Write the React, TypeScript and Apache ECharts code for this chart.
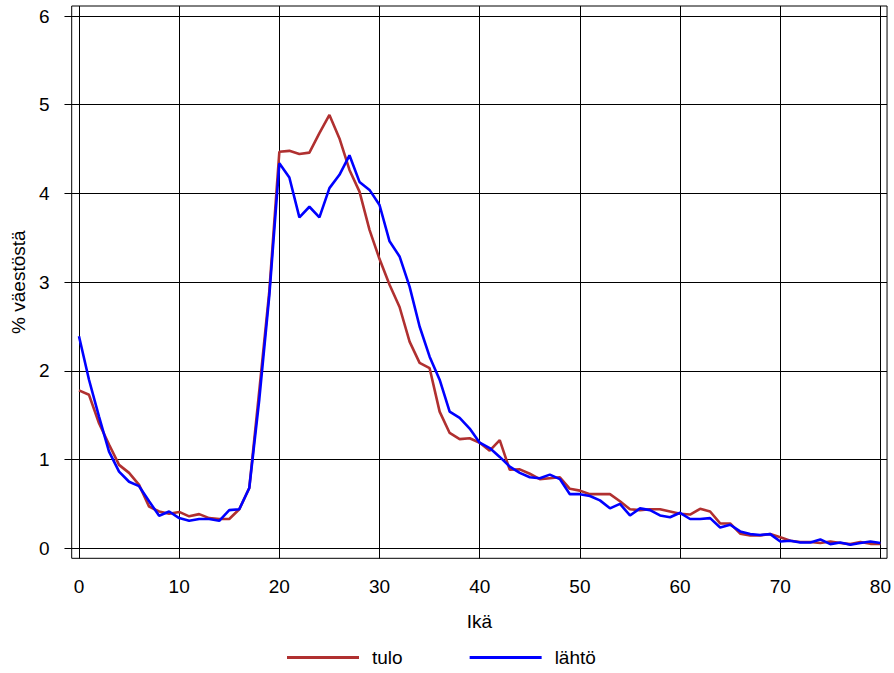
import React, { useEffect, useRef } from "react";
import * as echarts from "echarts";

const ages: number[] = Array.from({ length: 81 }, (_, i) => i);

const tulo: number[] = [
  1.78, 1.73, 1.41, 1.17, 0.94, 0.85, 0.715, 0.47, 0.415, 0.39,
  0.41, 0.36, 0.385, 0.34, 0.33, 0.33, 0.44, 0.68, 1.78, 2.9,
  4.47, 4.48, 4.445, 4.46, 4.68, 4.885, 4.62, 4.265, 4.02, 3.59,
  3.26, 2.97, 2.72, 2.33, 2.09, 2.03, 1.54, 1.30, 1.23, 1.24,
  1.19, 1.10, 1.22, 0.885, 0.89, 0.84, 0.78, 0.79, 0.80, 0.67,
  0.65, 0.61, 0.61, 0.61, 0.53, 0.44, 0.43, 0.44, 0.44, 0.415,
  0.39, 0.38, 0.445, 0.415, 0.28, 0.28, 0.165, 0.145, 0.145, 0.16,
  0.125, 0.085, 0.07, 0.07, 0.06, 0.077, 0.06, 0.047, 0.07, 0.05,
  0.05,
];

const lahto: number[] = [
  2.39, 1.90, 1.485, 1.09, 0.865, 0.75, 0.70, 0.53, 0.366, 0.415,
  0.34, 0.31, 0.33, 0.33, 0.31, 0.43, 0.44, 0.68, 1.68, 2.85,
  4.34, 4.18, 3.73, 3.85, 3.73, 4.06, 4.21, 4.43, 4.13, 4.04,
  3.87, 3.46, 3.29, 2.95, 2.50, 2.16, 1.90, 1.54, 1.47, 1.35,
  1.19, 1.13, 1.03, 0.92, 0.85, 0.80, 0.79, 0.83, 0.78, 0.61,
  0.61, 0.59, 0.54, 0.45, 0.50, 0.37, 0.45, 0.43, 0.37, 0.35,
  0.40, 0.33, 0.33, 0.34, 0.235, 0.265, 0.19, 0.16, 0.15, 0.16,
  0.077, 0.085, 0.065, 0.065, 0.10, 0.047, 0.065, 0.04, 0.06, 0.077,
  0.06,
];

const xTicks: number[] = [0, 10, 20, 30, 40, 50, 60, 70, 80];
const yTicks: number[] = [0, 1, 2, 3, 4, 5, 6];

const seriesNames = ["tulo", "lähtö"];
const FONT = "'Liberation Sans', Arial, sans-serif";

export default function App() {
  const ref = useRef<HTMLDivElement>(null);
  useEffect(() => {
    if (!ref.current) return;
    const chart = echarts.init(ref.current, undefined, { renderer: "svg" });
    const text = { fontFamily: FONT, fontSize: 19, color: "#000" };
    chart.setOption({
      animation: false,
      backgroundColor: "#fff",
      textStyle: { fontFamily: FONT },
      grid: {
        left: 71.7,
        right: 4.7,
        top: 6,
        bottom: 114.7,
        show: true,
        borderColor: "#000",
        borderWidth: 1,
        containLabel: false,
      },
      legend: {
        data: seriesNames,
        left: 287,
        top: 648,
        padding: 0,
        icon: "rect",
        itemWidth: 72,
        itemHeight: 3,
        itemGap: 67,
        textStyle: { ...text, padding: [0, 0, 0, 8] },
      },
      xAxis: {
        type: "value",
        min: -0.727,
        max: 80.66,
        name: "Ikä",
        nameLocation: "middle",
        nameGap: 54,
        nameTextStyle: text,
        axisLine: { show: false },
        axisTick: {
          show: true,
          inside: false,
          length: 10,
          customValues: xTicks,
          lineStyle: { color: "#000", width: 1 },
        },
        axisLabel: { ...text, margin: 19, customValues: xTicks },
        splitLine: { show: true, lineStyle: { color: "#000", width: 1 } },
      },
      yAxis: {
        type: "value",
        min: -0.113,
        max: 6.113,
        name: "% väestöstä",
        nameLocation: "middle",
        nameGap: 42,
        nameRotate: 90,
        nameTextStyle: text,
        axisLine: { show: false },
        axisTick: {
          show: true,
          inside: false,
          length: 14.5,
          customValues: yTicks,
          lineStyle: { color: "#000", width: 1 },
        },
        axisLabel: { ...text, margin: 22, customValues: yTicks },
        splitLine: { show: true, lineStyle: { color: "#000", width: 1 } },
      },
      series: [
        {
          name: seriesNames[0],
          type: "line",
          data: ages.map((a, i) => [a, tulo[i]]),
          showSymbol: false,
          symbol: "none",
          lineStyle: { color: "#B03030", width: 2.6 },
          itemStyle: { color: "#B03030" },
          z: 3,
        },
        {
          name: seriesNames[1],
          type: "line",
          data: ages.map((a, i) => [a, lahto[i]]),
          showSymbol: false,
          symbol: "none",
          lineStyle: { color: "#0000FF", width: 2.6 },
          itemStyle: { color: "#0000FF" },
          z: 4,
        },
      ],
    });
    return () => chart.dispose();
  }, []);
  return (
    <div
      ref={ref}
      style={{ position: "fixed", left: 0, top: 0, width: 894, height: 673 }}
    />
  );
}
